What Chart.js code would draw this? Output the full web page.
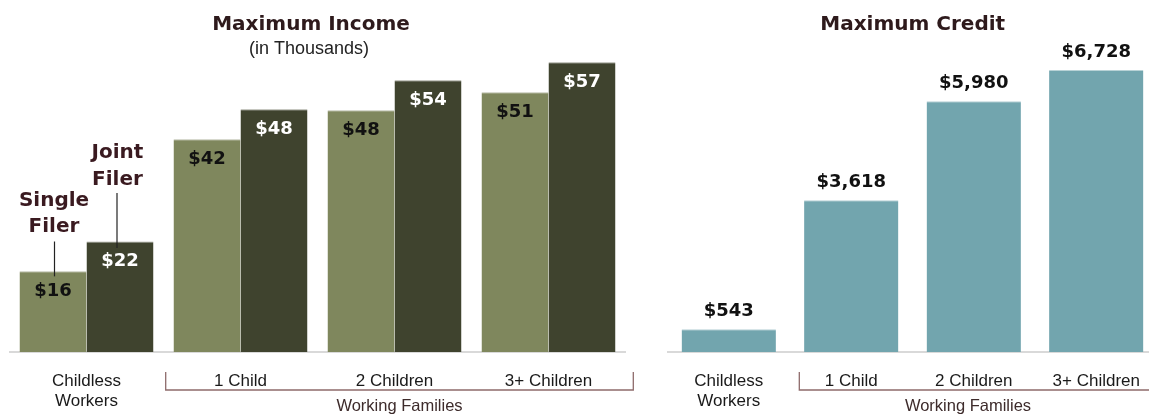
<!DOCTYPE html>
<html>
<head>
<meta charset="utf-8">
<title>EITC Maximum Income and Credit</title>
<script src="https://cdn.jsdelivr.net/npm/chart.js@4.4.1/dist/chart.umd.min.js"></script>
<style>
    html, body { margin: 0; padding: 0; background: #fff; overflow: hidden; width: 1149px; height: 416px; }
    #incomeChart { position: absolute; left: 0; top: 0; }
    #creditChart { position: absolute; left: 660px; top: 0; }
</style>
</head>
<body>
<canvas id="incomeChart" width="640" height="416"></canvas>
<canvas id="creditChart" width="500" height="416"></canvas>
<script>
// Categorias (eje x)
var categories = [['Childless', 'Workers'], '1 Child', '2 Children', '3+ Children'];

// Ingreso maximo, en miles de dolares
var singleFiler = [15.98, 42.158, 47.915, 51.464];
var jointFiler = [21.92, 48.108, 53.865, 57.414];

// Credito maximo, en dolares
var maxCredit = [543, 3618, 5980, 6728];

var TITLE_FONT = 'bold 20px "DejaVu Sans"';
var VALUE_FONT = 'bold 18px "DejaVu Sans"';
var TICK_FAMILY = '"Liberation Sans", Arial, sans-serif';
var TOP_EDGE = { top: 1, left: 0, right: 0, bottom: 0 };

function fmtThousands(v) { return '$' + Math.round(v); }
function fmtDollars(v) { return '$' + v.toLocaleString('en-US'); }

// llave "Working Families" debajo de las ultimas tres categorias
function drawBracket(ctx, x1, x2, label, labelX) {
    ctx.strokeStyle = '#8e6b6b';
    ctx.lineWidth = 1.3;
    ctx.beginPath();
    ctx.moveTo(x1, 372);
    ctx.lineTo(x1, 390);
    ctx.lineTo(x2, 390);
    ctx.lineTo(x2, 372);
    ctx.stroke();
    ctx.fillStyle = '#3d2b2b';
    ctx.font = '16.5px ' + TICK_FAMILY;
    ctx.textAlign = 'center';
    ctx.textBaseline = 'middle';
    ctx.fillText(label, labelX, 406.5);
}

function drawCallout(ctx, lines, x, y1, lineX, from, to) {
    ctx.fillStyle = '#3a1a20';
    ctx.font = TITLE_FONT;
    ctx.textAlign = 'center';
    ctx.textBaseline = 'middle';
    ctx.fillText(lines[0], x, y1);
    ctx.fillText(lines[1], x, y1 + 26.5);
    ctx.strokeStyle = '#222';
    ctx.lineWidth = 1.2;
    ctx.beginPath();
    ctx.moveTo(lineX, from);
    ctx.lineTo(lineX, to);
    ctx.stroke();
}

var incomeDecor = {
    id: 'incomeDecor',
    afterDatasetsDraw: function(chart) {
        var ctx = chart.ctx;
        ctx.save();
        ctx.textAlign = 'center';
        ctx.textBaseline = 'middle';

        // valores dentro de las barras
        ctx.font = VALUE_FONT;
        chart.data.datasets.forEach(function(ds, i) {
            chart.getDatasetMeta(i).data.forEach(function(bar, j) {
                ctx.fillStyle = i == 0 ? '#111' : '#fff';
                ctx.fillText(fmtThousands(ds.data[j]), bar.x, bar.y + 20);
            });
        });

        ctx.fillStyle = '#2e1a1c';
        ctx.font = TITLE_FONT;
        ctx.fillText('Maximum Income', 311, 24.5);
        ctx.fillStyle = '#222';
        ctx.font = '18px ' + TICK_FAMILY;
        ctx.fillText('(in Thousands)', 309, 49);

        var single = chart.getDatasetMeta(0).data[0];
        var joint = chart.getDatasetMeta(1).data[0];
        drawCallout(ctx, ['Single', 'Filer'], 54, 200.5, 54.5, 241.5, single.y + 5);
        drawCallout(ctx, ['Joint', 'Filer'], 117.5, 153, 117, 193, joint.y + 6.5);

        drawBracket(ctx, 165.7, 633.3, 'Working Families', 399.5);
        ctx.restore();
    }
};

var creditDecor = {
    id: 'creditDecor',
    afterDatasetsDraw: function(chart) {
        var ctx = chart.ctx;
        ctx.save();
        ctx.textAlign = 'center';
        ctx.textBaseline = 'middle';

        ctx.font = VALUE_FONT;
        ctx.fillStyle = '#111';
        chart.getDatasetMeta(0).data.forEach(function(bar, j) {
            ctx.fillText(fmtDollars(maxCredit[j]), bar.x, bar.y - 18);
        });

        ctx.fillStyle = '#2e1a1c';
        ctx.font = TITLE_FONT;
        ctx.fillText('Maximum Credit', 252.7, 24.5);

        drawBracket(ctx, 139.3, 520, 'Working Families', 308);
        ctx.restore();
    }
};

function xAxis() {
    return {
        grid: { display: false },
        border: { display: true, color: '#d9d9d9', width: 2 },
        ticks: {
            color: '#1a1a1a',
            font: { family: TICK_FAMILY, size: 17 },
            padding: 11,
            maxRotation: 0,
            autoSkip: false
        },
        afterFit: function(scale) { scale.height = 64; }
    };
}

new Chart(document.getElementById('incomeChart').getContext('2d'), {
    type: 'bar',
    data: {
        labels: categories,
        datasets: [
            { label: 'Single Filer', data: singleFiler, backgroundColor: '#7f875d', borderColor: '#b9bca8', borderWidth: TOP_EDGE },
            { label: 'Joint Filer', data: jointFiler, backgroundColor: '#3f432e', borderColor: '#9a9c90', borderWidth: TOP_EDGE }
        ]
    },
    options: {
        responsive: false,
        animation: false,
        layout: { padding: { left: 9.5, right: 14.5, top: 49.2, bottom: 0 } },
        datasets: { bar: { categoryPercentage: 0.87, barPercentage: 1 } },
        plugins: { legend: { display: false }, tooltip: { enabled: false } },
        scales: {
            x: xAxis(),
            y: { display: false, min: 0, max: 60 }
        }
    },
    plugins: [incomeDecor]
});

new Chart(document.getElementById('creditChart').getContext('2d'), {
    type: 'bar',
    data: {
        labels: categories,
        datasets: [
            { label: 'Maximum Credit', data: maxCredit, backgroundColor: '#72a5ae', borderColor: '#b8d2d6', borderWidth: TOP_EDGE }
        ]
    },
    options: {
        responsive: false,
        animation: false,
        layout: { padding: { left: 7.5, right: 2.5, top: 58.6, bottom: 0 } },
        datasets: { bar: { categoryPercentage: 0.77, barPercentage: 1 } },
        plugins: { legend: { display: false }, tooltip: { enabled: false } },
        scales: {
            x: xAxis(),
            y: { display: false, min: 0, max: 7000 }
        }
    },
    plugins: [creditDecor]
});
</script>
</body>
</html>
